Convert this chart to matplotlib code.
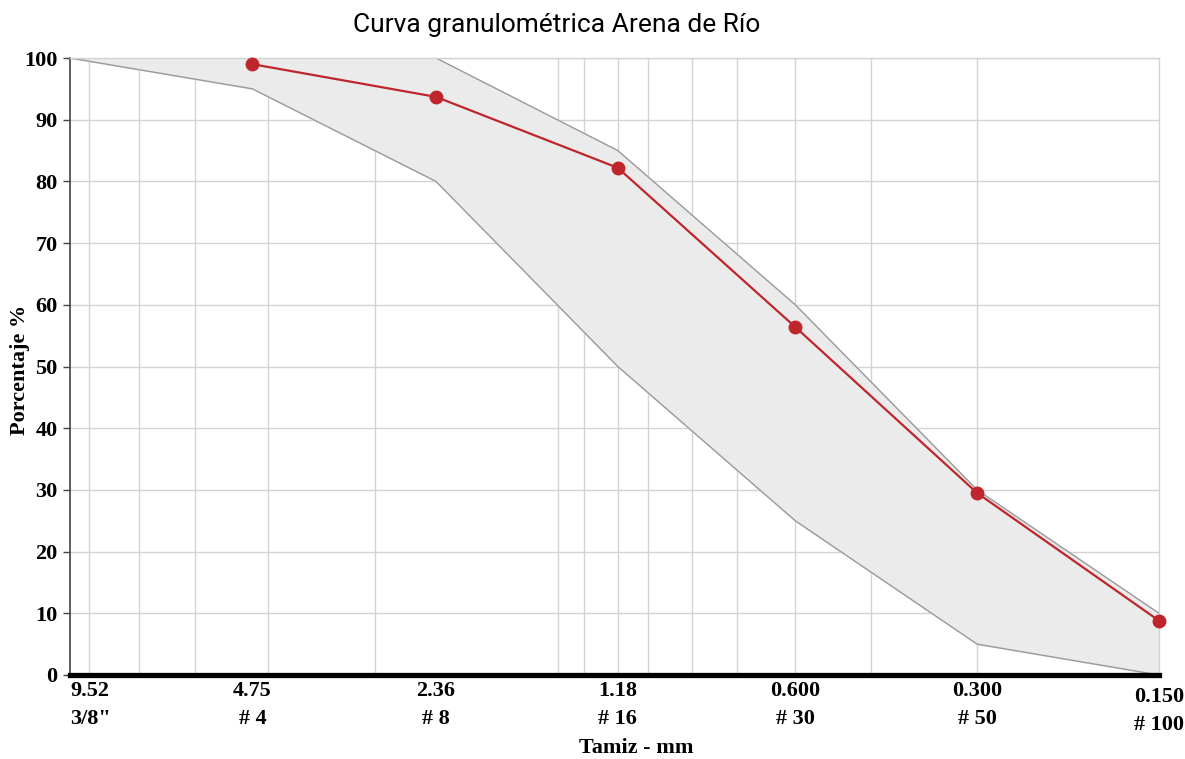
import numpy as np
import matplotlib
matplotlib.use('Agg')
import matplotlib.pyplot as plt
from matplotlib.transforms import ScaledTranslation

# Datos de la curva granulométrica
tamices = [9.52, 4.75, 2.36, 1.18, 0.600, 0.300, 0.150]
etiquetas = ['9.52\n3/8"', '4.75\n# 4', '2.36\n# 8', '1.18\n# 16',
             '0.600\n# 30', '0.300\n# 50', '0.150\n# 100']
limite_sup = [100, 100, 100, 85, 60, 30, 10]
limite_inf = [100, 95, 80, 50, 25, 5, 0]
tamices_arena = [4.75, 2.36, 1.18, 0.600, 0.300, 0.150]
pasa_arena = [99.0, 93.7, 82.2, 56.4, 29.5, 8.8]
# lineas verticales de la grilla
grilla_x = [8.84, 7.31, 5.92, 4.47, 2.98, 1.48, 1.34, 1.18, 1.05, 0.89,
            0.75, 0.60, 0.45, 0.30]

fig = plt.figure(figsize=(11.85, 7.59), dpi=100)
ax = fig.add_axes([70/1185, 1 - 675/759, 1089/1185, 617/759])

serif = 'Liberation Serif'
fs = 16

ax.set_xscale('log')
ax.set_xlim(9.52, 0.150)
ax.set_ylim(0, 100)

# grilla
for v in grilla_x:
    ax.axvline(v, color='#d3d3d3', lw=1, zorder=0)
for v in range(10, 101, 10):
    ax.axhline(v, color='#d3d3d3', lw=1, zorder=0)

# banda de limites
ax.fill_between(tamices, limite_inf, limite_sup, color='#ebebeb', zorder=1)
ax.plot(tamices, limite_sup, color='#9a9a9a', lw=1, zorder=2)
ax.plot(tamices, limite_inf, color='#9a9a9a', lw=1, zorder=2)

# curva de la arena
ax.plot(tamices_arena, pasa_arena, color='#bf262c', lw=1.6, marker='o',
        markersize=9, zorder=4, clip_on=False)

ax.set_xticks(tamices)
ax.set_xticklabels(etiquetas)
ax.minorticks_off()
ax.set_yticks(range(0, 101, 10))
ax.tick_params(axis='x', length=0, pad=4)
ax.tick_params(axis='y', length=5, width=1, color='#444444', pad=4)
for lab in ax.get_xticklabels() + ax.get_yticklabels():
    lab.set_fontfamily(serif)
    lab.set_fontweight('bold')
    lab.set_fontsize(fs)
    lab.set_linespacing(1.55)

xl = ax.get_xticklabels()
xl[0].set_ha('left')
xl[-1].set_transform(xl[-1].get_transform() +
                     ScaledTranslation(0, -6/100, fig.dpi_scale_trans))

for s in ['top', 'right']:
    ax.spines[s].set_color('#d3d3d3')
    ax.spines[s].set_linewidth(1)
ax.spines['left'].set_color('#444444')
ax.spines['left'].set_linewidth(1.2)
ax.spines['bottom'].set_color('black')
ax.spines['bottom'].set_linewidth(3.8)
ax.spines['bottom'].set_zorder(5)

ax.set_xlabel('Tamiz - mm', fontfamily=serif, fontweight='bold', fontsize=fs,
              va='center')
ax.xaxis.set_label_coords((636 - 70) / 1089, -(748 - 675) / 617)
ax.set_ylabel('Porcentaje %', fontfamily=serif, fontweight='bold', fontsize=fs,
              va='center')
ax.yaxis.set_label_coords((20 - 70) / 1089, 0.5 - (370 - 366.5) / 617)

fig.text(557/1185, 1 - 25/759, 'Curva granulométrica Arena de Río',
         fontfamily='Roboto', fontsize=19, ha='center', va='center')

fig.savefig('out.png', dpi=100)
